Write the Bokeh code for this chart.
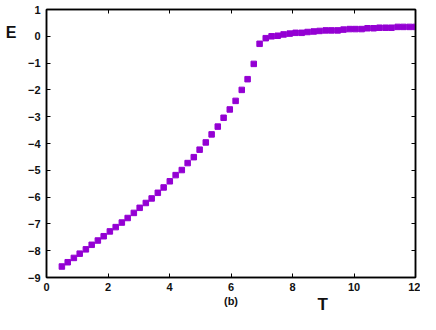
from bokeh.plotting import figure
from bokeh.models import Range1d, LinearAxis, FixedTicker, ColumnDataSource, Title
from bokeh.embed import file_html
from bokeh.resources import INLINE

T = [0.50, 0.69, 0.89, 1.08, 1.28, 1.47, 1.67, 1.86, 2.06, 2.25,
     2.45, 2.64, 2.84, 3.03, 3.23, 3.42, 3.62, 3.81, 4.01, 4.20,
     4.40, 4.59, 4.79, 4.98, 5.18, 5.37, 5.57, 5.76, 5.96, 6.15,
     6.35, 6.54, 6.74, 6.93, 7.13, 7.32, 7.52, 7.71, 7.91, 8.10,
     8.30, 8.49, 8.69, 8.88, 9.08, 9.27, 9.47, 9.66, 9.86, 10.05,
     10.25, 10.44, 10.64, 10.83, 11.03, 11.22, 11.42, 11.61, 11.81, 12.00]
E = [-8.59, -8.43, -8.27, -8.11, -7.95, -7.78, -7.62, -7.46, -7.28, -7.12,
     -6.95, -6.78, -6.59, -6.40, -6.22, -6.05, -5.84, -5.64, -5.41, -5.18,
     -4.99, -4.73, -4.51, -4.23, -3.96, -3.66, -3.37, -3.04, -2.73, -2.41,
     -2.00, -1.60, -1.03, -0.28, -0.07, 0.00, 0.02, 0.07, 0.10, 0.13,
     0.13, 0.16, 0.18, 0.20, 0.22, 0.22, 0.22, 0.25, 0.27, 0.27,
     0.27, 0.30, 0.30, 0.32, 0.32, 0.32, 0.35, 0.35, 0.35, 0.35]

x_ticks = [0, 2, 4, 6, 8, 10, 12]
y_ticks = [-9, -8, -7, -6, -5, -4, -3, -2, -1, 0, 1]

FONT = "Liberation Sans"
TXT = "#111111"

p = figure(width=420, height=314, output_backend="svg", toolbar_location=None,
           x_range=Range1d(0, 12), y_range=Range1d(-9, 1),
           x_axis_location=None, y_axis_location=None,
           min_border_left=46, min_border_right=5, min_border_top=9, min_border_bottom=37)
p.xgrid.visible = False
p.ygrid.visible = False
p.outline_line_color = "black"
p.outline_line_width = 1.5
p.background_fill_color = "white"
p.border_fill_color = "white"

src = ColumnDataSource(dict(T=T, E=E))
p.scatter("T", "E", source=src, marker="square", size=5.5,
          fill_color="#9400D3", line_color="#9400D3")

def style_axis(ax, ticks, show_labels):
    ax.ticker = FixedTicker(ticks=ticks)
    ax.major_tick_in = 4
    ax.major_tick_out = 0
    ax.minor_tick_line_color = None
    ax.axis_line_color = "black"
    ax.axis_line_width = 1.5
    ax.major_tick_line_color = "black"
    ax.major_tick_line_width = 1
    ax.major_label_text_font = FONT
    ax.major_label_text_font_style = "bold"
    ax.major_label_text_font_size = "11px"
    ax.major_label_text_color = TXT
    ax.major_label_standoff = 6
    if not show_labels:
        ax.major_label_overrides = {t: "" for t in ticks}
        ax.major_label_standoff = 0

def label_axis(ax, text, size, standoff):
    ax.axis_label = text
    ax.axis_label_text_font = FONT
    ax.axis_label_text_font_style = "bold"
    ax.axis_label_text_font_size = size
    ax.axis_label_text_color = TXT
    ax.axis_label_standoff = standoff

def text_only_axis():
    ax = LinearAxis(ticker=FixedTicker(ticks=[]))
    ax.axis_line_color = None
    ax.major_tick_line_color = None
    ax.minor_tick_line_color = None
    ax.major_label_standoff = 0
    return ax

bottom = LinearAxis()
style_axis(bottom, x_ticks, True)
bottom.major_label_standoff = 5
label_axis(bottom, "(b)", "11px", 1)
p.add_layout(bottom, "below")

t_title = Title(text="T", align="left", offset=271, vertical_align="top",
                text_font=FONT, text_font_style="bold", text_font_size="17px",
                text_color=TXT)
try:
    t_title.standoff = -30
except AttributeError:
    pass
p.add_layout(t_title, "below")

left = LinearAxis()
style_axis(left, y_ticks, True)
p.add_layout(left, "left")

e_axis = text_only_axis()
label_axis(e_axis, "\n\n\nE", "16px", 8)
e_axis.axis_label_text_line_height = 0.9
e_axis.axis_label_orientation = "horizontal"
try:
    e_axis.axis_label_align = "end"
except AttributeError:
    pass
p.add_layout(e_axis, "left")

top = LinearAxis()
style_axis(top, x_ticks, False)
p.add_layout(top, "above")
right = LinearAxis()
style_axis(right, y_ticks, False)
p.add_layout(right, "right")

open("out.html", "w").write(file_html(p, INLINE))
